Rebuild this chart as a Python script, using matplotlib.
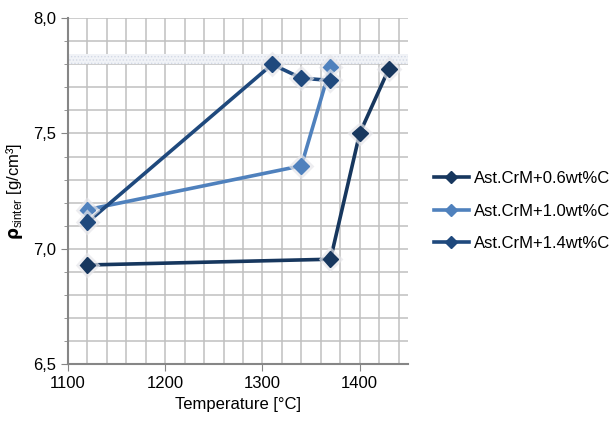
import matplotlib
matplotlib.use("Agg")
import matplotlib.pyplot as plt
from matplotlib.ticker import MultipleLocator, FuncFormatter
import matplotlib.patheffects as pe

plt.rcParams['font.family'] = ['Liberation Sans', 'DejaVu Sans']
plt.rcParams['mathtext.fontset'] = 'custom'
plt.rcParams['mathtext.rm'] = 'Liberation Sans'
plt.rcParams['mathtext.bf'] = 'DejaVu Sans:bold'
plt.rcParams['hatch.color'] = '#cfd6e4'
plt.rcParams['hatch.linewidth'] = 0.6

labels = ["Ast.CrM+0.6wt%C", "Ast.CrM+1.0wt%C", "Ast.CrM+1.4wt%C"]
temp_06 = [1120, 1370, 1400, 1430]
rho_06 = [6.93, 6.955, 7.50, 7.78]
temp_10 = [1120, 1340, 1370]
rho_10 = [7.17, 7.36, 7.79]
temp_14 = [1120, 1310, 1340, 1370]
rho_14 = [7.115, 7.80, 7.74, 7.73]
colors = ["#17375E", "#4F81BD", "#1F497D"]

fig = plt.figure(figsize=(6.13, 4.22), dpi=100)
ax = fig.add_axes([0.111, 0.137, 0.555, 0.820])

ax.axhspan(7.80, 7.843, facecolor="#f1f3f7", hatch='.....', edgecolor='#d3d9e6',
           zorder=1, lw=0)

halo = [pe.withStroke(linewidth=5, foreground="#e6e6ea", alpha=0.7)]
series = [(temp_06, rho_06), (temp_10, rho_10), (temp_14, rho_14)]
for (x, y), c, lab in zip(series, colors, labels):
    ax.plot(x, y, color=c, lw=2.6, zorder=3, solid_capstyle='round')
    ax.plot(x, y, ls='none', marker='D', ms=8, color=c, mec=c,
            zorder=4, path_effects=halo)
    ax.plot([], [], color=c, lw=2.6, marker='D', ms=6, label=lab)

ax.set_xlim(1100, 1450)
ax.set_ylim(6.5, 8.0)
ax.xaxis.set_major_locator(MultipleLocator(100))
ax.xaxis.set_minor_locator(MultipleLocator(20))
ax.yaxis.set_major_locator(MultipleLocator(0.5))
ax.yaxis.set_minor_locator(MultipleLocator(0.1))
ax.yaxis.set_major_formatter(FuncFormatter(lambda v, p: f"{v:.1f}".replace('.', ',')))
ax.grid(which='both', color='#c0c0c0', lw=1.1, zorder=0)
ax.set_axisbelow(True)
for s in ['top', 'right']:
    ax.spines[s].set_visible(False)
for s in ['left', 'bottom']:
    ax.spines[s].set_color('#868686')
    ax.spines[s].set_linewidth(1.5)
ax.tick_params(which='major', length=5, color='#868686', labelsize=12)
ax.tick_params(which='minor', length=3, color='#868686')
ax.tick_params(axis='x', which='minor', length=0)

ax.set_xlabel("Temperature [°C]", fontsize=12, labelpad=4)
ax.set_ylabel(r"$\mathbf{\rho}_{\mathrm{sinter}}$ [g/cm³]", fontsize=12, labelpad=6)

fig.legend(loc='center left', bbox_to_anchor=(0.697, 0.50), frameon=False,
           fontsize=12, handlelength=2.1, handletextpad=0.3, labelspacing=1.05,
           borderaxespad=0)

fig.savefig("out.png", dpi=100)
